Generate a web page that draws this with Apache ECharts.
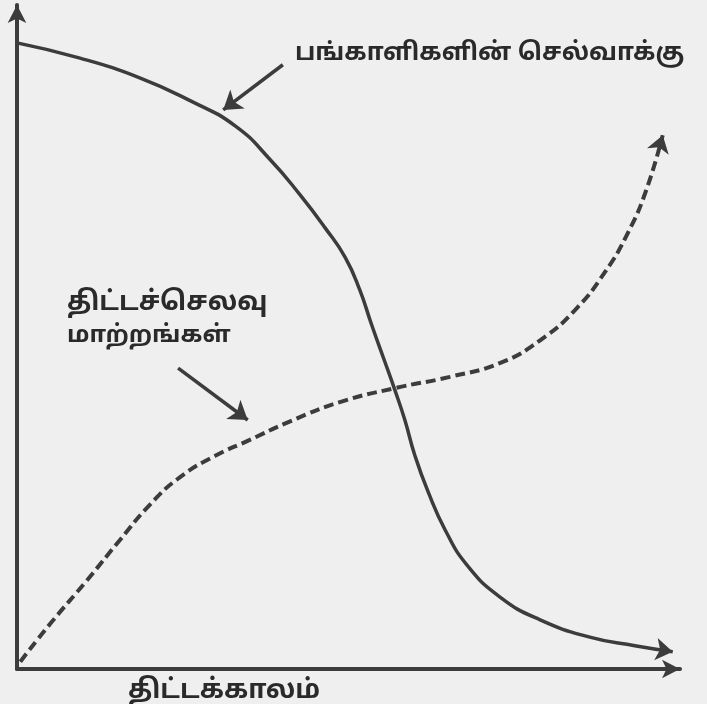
<!DOCTYPE html>
<html>
<head>
<meta charset="utf-8">
<script src="https://cdn.jsdelivr.net/npm/echarts@6/dist/echarts.min.js"></script>
<style>
  html, body { margin: 0; padding: 0; background: #efefef; }
  #chart { width: 707px; height: 704px; }
</style>
</head>
<body>
<div id="chart"></div>
<script>
// Project timeline (0-100) vs. relative level (0-100)
const influenceTime  = [0, 9.5, 18.6, 26.1, 32.9, 38.2, 42.7, 46.5, 49.5, 51.7, 53.5, 55.4, 57.0, 58.5, 60.0, 62.0, 64.6, 68.0, 72.9, 78.9, 86.4, 93.2, 98.9];
const influenceLevel = [94.3, 92.0, 89.0, 85.6, 81.8, 76.7, 71.4, 66.4, 62.0, 57.1, 51.8, 46.5, 42.0, 37.5, 32.2, 26.7, 20.9, 15.5, 10.8, 7.4, 4.8, 3.5, 2.6];

const costTime  = [0.5, 5.0, 10.6, 15.5, 20.1, 24.6, 29.9, 35.1, 41.2, 48.7, 57.0, 65.3, 72.9, 78.9, 84.2, 88.7, 92.2, 94.9, 97.4];
const costLevel = [1.1, 6.8, 13.4, 19.4, 24.8, 28.9, 32.1, 34.5, 37.3, 40.2, 42.3, 44.0, 46.1, 49.5, 54.1, 59.8, 65.8, 72.1, 80.4];

// Callout arrows: [tail, head]
const influenceCallout = [[40.1, 91.0], [31.1, 84.2]];
const costCallout      = [[24.3, 45.3], [34.8, 37.5]];

const influenceLabel = 'பங்காளிகளின் செல்வாக்கு';
const costLabel = ['திட்டச்செலவு', 'மாற்றங்கள்'];
const timeLabel = 'திட்டக்காலம்';

const ink = '#3c3c3c';
const textInk = '#2a2a2a';
const tamilFont = '"Noto Sans Tamil", "Lohit Tamil", "Noto Sans", sans-serif';

const zip = (xs, ys) => xs.map((x, i) => [x, ys[i]]);
const influence = zip(influenceTime, influenceLevel);
const cost = zip(costTime, costLevel);
// short segment at the end of a curve, pointing along its last chord
const endStub = (pts) => {
  const a = pts[pts.length - 2], b = pts[pts.length - 1];
  const k = 0.3;
  return [[b[0] + (a[0] - b[0]) * k, b[1] + (a[1] - b[1]) * k], b];
};

const chart = echarts.init(document.getElementById('chart'), null, { renderer: 'canvas' });

const hiddenAxis = {
  type: 'value', min: 0, max: 100,
  splitLine: { show: false }, axisTick: { show: false }, axisLabel: { show: false },
  axisLine: { show: true, symbol: ['none', 'arrow'], symbolSize: [14, 18],
              lineStyle: { color: ink, width: 4 } }
};

chart.setOption({
  backgroundColor: '#efefef',
  animation: false,
  grid: { left: 17, right: 27, top: 5, bottom: 35 },
  xAxis: hiddenAxis,
  yAxis: hiddenAxis,
  series: [
    {
      type: 'line', data: influence, smooth: 0.5, symbol: 'none',
      lineStyle: { color: ink, width: 3.5 }
    },
    {
      type: 'line', data: cost, smooth: 0.5, symbol: 'none',
      lineStyle: { color: ink, width: 4, type: [10, 5] }
    },
    {
      // arrowheads at curve ends
      type: 'lines', coordinateSystem: 'cartesian2d',
      symbol: ['none', 'arrow'], symbolSize: 17,
      lineStyle: { color: ink, width: 0.5, opacity: 1 },
      data: [{ coords: endStub(influence) }, { coords: endStub(cost) }]
    },
    {
      // callout pointers
      type: 'lines', coordinateSystem: 'cartesian2d',
      symbol: ['none', 'arrow'], symbolSize: 18,
      lineStyle: { color: ink, width: 3.5, opacity: 1 },
      data: [{ coords: influenceCallout }, { coords: costCallout }]
    }
  ],
  graphic: [
    { type: 'text', left: 295, top: 43,
      style: { text: influenceLabel, fill: textInk, font: 'bold 24.5px ' + tamilFont } },
    { type: 'text', left: 67, top: 291,
      style: { text: costLabel[0], fill: textInk, font: 'bold 26.5px ' + tamilFont } },
    { type: 'text', left: 67, top: 325,
      style: { text: costLabel[1], fill: textInk, font: 'bold 24px ' + tamilFont } },
    { type: 'text', left: 128, top: 679,
      style: { text: timeLabel, fill: textInk, font: 'bold 26.5px ' + tamilFont } }
  ]
});
</script>
</body>
</html>
